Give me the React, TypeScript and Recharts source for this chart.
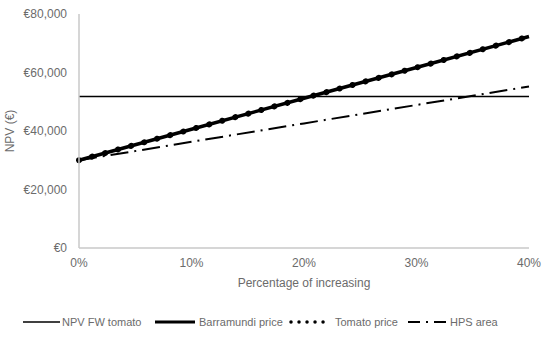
import React from 'react';
import { LineChart, Line, XAxis, YAxis, Legend, Label } from 'recharts';

const percentIncrease = [0, 10, 20, 30, 40];
const npvFwTomato = [51800, 51800, 51800, 51800, 51800];
const barramundiPrice = [30000, 40600, 51200, 61700, 72300];
const tomatoPrice = [30000, 40600, 51200, 61700, 72300];
const hpsArea = [30000, 36300, 42600, 48900, 55200];
const yTicks = [0, 20000, 40000, 60000, 80000];
const xTicks = [0, 10, 20, 30, 40];
const seriesNames = ['NPV FW tomato', 'Barramundi price', 'Tomato price', 'HPS area'];

const data = percentIncrease.map((p, i) => ({
  p,
  npv: npvFwTomato[i],
  barra: barramundiPrice[i],
  tomato: tomatoPrice[i],
  hps: hpsArea[i],
}));

const FONT = 'Liberation Sans, Arial, sans-serif';
const TXT = '#6b6b6b';
const AXIS = '#c8c8c8';

const fmtEuro = (v: number) => '€' + v.toLocaleString('en-US');
const fmtPct = (v: number) => v + '%';

const CustomLegend = () => (
  <svg width={550} height={20} style={{ display: 'block' }}>
    <g fontFamily={FONT} fontSize={11} fill={TXT}>
      <line x1={23} y1={10} x2={60} y2={10} stroke="#000" strokeWidth={1.5} />
      <text x={62} y={14}>{seriesNames[0]}</text>
      <line x1={155} y1={10} x2={195} y2={10} stroke="#000" strokeWidth={3} />
      <text x={199} y={14}>{seriesNames[1]}</text>
      <line x1={291} y1={10} x2={331} y2={10} stroke="#000" strokeWidth={3.5} strokeDasharray="0.01 8" strokeLinecap="round" />
      <text x={335} y={14}>{seriesNames[2]}</text>
      <line x1={408} y1={10} x2={446} y2={10} stroke="#000" strokeWidth={2} strokeDasharray="12 6 2 6" />
      <text x={450} y={14}>{seriesNames[3]}</text>
    </g>
  </svg>
);

export default function App() {
  return (
    <div style={{ position: 'absolute', left: 0, top: 0 }}>
      <LineChart
        width={550}
        height={342}
        data={data}
        margin={{ top: 14, right: 21, left: 0, bottom: 34 }}
      >
        <XAxis
          dataKey="p"
          type="number"
          domain={[0, 40]}
          ticks={xTicks}
          tickFormatter={fmtPct}
          tickLine={false}
          tickSize={0}
          tickMargin={10}
          height={40}
          axisLine={{ stroke: AXIS, strokeWidth: 1.5 }}
          tick={{ fill: TXT, fontSize: 12, fontFamily: FONT }}
        >
          <Label
            content={({ viewBox }: any) => (
              <text
                x={viewBox.x + viewBox.width / 2}
                y={287}
                textAnchor="middle"
                fill={TXT}
                fontSize={12}
                fontFamily={FONT}
              >
                Percentage of increasing
              </text>
            )}
          />
        </XAxis>
        <YAxis
          type="number"
          domain={[0, 80000]}
          ticks={yTicks}
          tickFormatter={fmtEuro}
          tickLine={false}
          tickSize={0}
          tickMargin={12}
          width={79}
          axisLine={{ stroke: AXIS, strokeWidth: 1.5 }}
          tick={{ fill: TXT, fontSize: 12, fontFamily: FONT }}
        >
          <Label
            content={({ viewBox }: any) => (
              <text
                x={14}
                y={viewBox.y + viewBox.height / 2}
                textAnchor="middle"
                transform={`rotate(-90 14 ${viewBox.y + viewBox.height / 2})`}
                fill={TXT}
                fontSize={12}
                fontFamily={FONT}
              >
                NPV (€)
              </text>
            )}
          />
        </YAxis>
        <Legend
          verticalAlign="bottom"
          content={() => <CustomLegend />}
          wrapperStyle={{ top: 312, left: 0, width: 550, height: 20, bottom: 'auto' }}
        />
        <Line
          dataKey="npv"
          name={seriesNames[0]}
          stroke="#000"
          strokeWidth={1.5}
          dot={false}
          activeDot={false}
          isAnimationActive={false}
        />
        <Line
          dataKey="barra"
          name={seriesNames[1]}
          stroke="#000"
          strokeWidth={3.5}
          dot={false}
          activeDot={false}
          isAnimationActive={false}
        />
        <Line
          dataKey="tomato"
          name={seriesNames[2]}
          stroke="#000"
          strokeWidth={6}
          strokeDasharray="0.01 13.5"
          strokeLinecap="round"
          dot={false}
          activeDot={false}
          isAnimationActive={false}
        />
        <Line
          dataKey="hps"
          name={seriesNames[3]}
          stroke="#000"
          strokeWidth={2}
          strokeDasharray="18 6 2 6"
          dot={false}
          activeDot={false}
          isAnimationActive={false}
        />
      </LineChart>
    </div>
  );
}
